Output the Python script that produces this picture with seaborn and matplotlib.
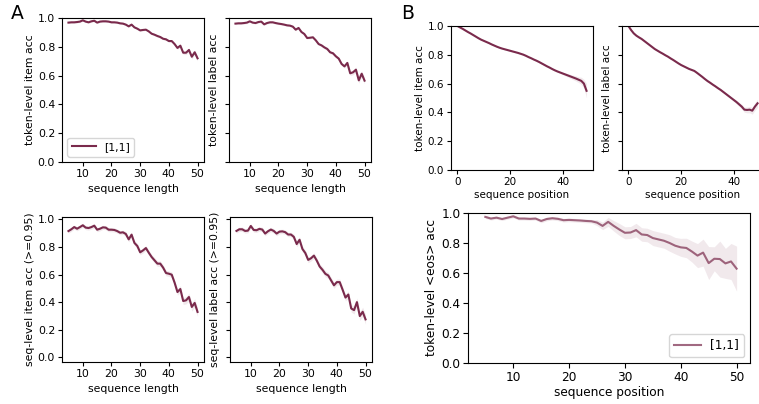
import numpy as np
import matplotlib
matplotlib.use("Agg")
import matplotlib.pyplot as plt
import seaborn as sns

# colours / legend
line_color = "#7a2a4c"
series_label = "[1,1]"

# ---------- panel A: accuracy vs sequence length ----------
seq_len = list(range(5, 51))

tok_item_acc = [0.968, 0.970, 0.970, 0.972, 0.975, 0.984, 0.975, 0.970, 0.977, 0.981,
                0.968, 0.975, 0.977, 0.977, 0.975, 0.970, 0.970, 0.968, 0.963, 0.961,
                0.954, 0.942, 0.954, 0.935, 0.926, 0.914, 0.917, 0.919, 0.907, 0.891,
                0.884, 0.875, 0.868, 0.856, 0.852, 0.840, 0.840, 0.819, 0.792, 0.808,
                0.759, 0.759, 0.778, 0.731, 0.762, 0.720]
tok_item_err = [0.006] * 30 + [0.008] * 8 + [0.01, 0.012, 0.012, 0.014, 0.014, 0.016, 0.016, 0.018]

tok_label_acc = [0.961, 0.963, 0.963, 0.965, 0.968, 0.977, 0.968, 0.965, 0.972, 0.975,
                 0.956, 0.965, 0.970, 0.970, 0.965, 0.961, 0.958, 0.954, 0.949, 0.947,
                 0.940, 0.919, 0.931, 0.903, 0.889, 0.861, 0.863, 0.866, 0.845, 0.819,
                 0.810, 0.796, 0.785, 0.762, 0.755, 0.734, 0.718, 0.681, 0.664, 0.688,
                 0.616, 0.623, 0.641, 0.567, 0.613, 0.565]
tok_label_err = [0.007] * 30 + [0.01] * 8 + [0.012, 0.014, 0.015, 0.017, 0.018, 0.02, 0.02, 0.022]

seq_item_acc = [0.915, 0.928, 0.944, 0.932, 0.944, 0.957, 0.940, 0.937, 0.944, 0.954,
                0.925, 0.932, 0.942, 0.940, 0.925, 0.925, 0.923, 0.915, 0.903, 0.906,
                0.894, 0.855, 0.889, 0.829, 0.807, 0.761, 0.775, 0.792, 0.758, 0.727,
                0.703, 0.679, 0.679, 0.650, 0.611, 0.606, 0.599, 0.541, 0.473, 0.495,
                0.408, 0.413, 0.437, 0.365, 0.394, 0.329]
seq_item_err = [0.015] * 20 + [0.018] * 10 + [0.02] * 8 + [0.022, 0.024, 0.025, 0.026, 0.028, 0.03, 0.03, 0.032]

seq_label_acc = [0.916, 0.928, 0.928, 0.916, 0.918, 0.952, 0.923, 0.921, 0.931, 0.926,
                 0.897, 0.914, 0.926, 0.916, 0.897, 0.911, 0.913, 0.907, 0.890, 0.890,
                 0.873, 0.821, 0.852, 0.785, 0.756, 0.706, 0.718, 0.737, 0.701, 0.658,
                 0.634, 0.605, 0.593, 0.557, 0.522, 0.545, 0.545, 0.490, 0.433, 0.455,
                 0.354, 0.342, 0.400, 0.299, 0.330, 0.275]
seq_label_err = [0.016] * 20 + [0.02] * 10 + [0.022] * 8 + [0.024, 0.026, 0.027, 0.028, 0.03, 0.032, 0.033, 0.035]

# ---------- panel B: accuracy vs sequence position ----------
seq_pos = list(range(0, 50))

pos_item_acc = [1.000, 0.990, 0.980, 0.969, 0.958, 0.948, 0.937, 0.926, 0.915, 0.905,
                0.897, 0.889, 0.881, 0.872, 0.864, 0.856, 0.849, 0.843, 0.838, 0.833,
                0.828, 0.823, 0.818, 0.813, 0.807, 0.801, 0.793, 0.784, 0.776, 0.767,
                0.759, 0.750, 0.740, 0.730, 0.720, 0.711, 0.701, 0.692, 0.684, 0.677,
                0.670, 0.663, 0.656, 0.649, 0.642, 0.635, 0.627, 0.619, 0.600, 0.550]
pos_item_err = [0.002] * 10 + [0.004] * 20 + [0.006] * 10 + [0.008, 0.01, 0.012, 0.014, 0.016,
                                                              0.018, 0.02, 0.025, 0.03, 0.05]

pos_label_acc = [1.000, 0.972, 0.949, 0.933, 0.921, 0.910, 0.896, 0.882, 0.868, 0.854,
                 0.840, 0.829, 0.818, 0.808, 0.797, 0.787, 0.775, 0.764, 0.752, 0.740,
                 0.729, 0.720, 0.711, 0.702, 0.695, 0.688, 0.675, 0.661, 0.647, 0.632,
                 0.618, 0.606, 0.593, 0.581, 0.568, 0.556, 0.542, 0.528, 0.514, 0.500,
                 0.486, 0.472, 0.456, 0.440, 0.419, 0.417, 0.419, 0.412, 0.440, 0.463]
pos_label_err = [0.002] * 10 + [0.004] * 20 + [0.007] * 10 + [0.01, 0.012, 0.014, 0.016, 0.018,
                                                               0.02, 0.022, 0.024, 0.026, 0.028]

eos_pos = list(range(5, 51))
eos_acc = [0.974, 0.963, 0.969, 0.960, 0.969, 0.978, 0.963, 0.963, 0.961, 0.963,
           0.947, 0.960, 0.965, 0.961, 0.952, 0.954, 0.952, 0.950, 0.947, 0.945,
           0.936, 0.914, 0.941, 0.914, 0.890, 0.868, 0.870, 0.886, 0.857, 0.853,
           0.833, 0.824, 0.815, 0.800, 0.782, 0.771, 0.767, 0.743, 0.716, 0.736,
           0.666, 0.695, 0.693, 0.664, 0.677, 0.629]
eos_err = [0.01] * 10 + [0.012] * 10 + [0.02, 0.025, 0.03, 0.035, 0.04, 0.04, 0.04, 0.045, 0.045,
                                        0.045, 0.05, 0.05, 0.05, 0.055, 0.055, 0.06, 0.065, 0.07,
                                        0.08, 0.09, 0.11, 0.08, 0.12, 0.10, 0.12, 0.15]


def draw(ax, x, y, err, alpha=1.0, label=None):
    sns.lineplot(x=x, y=y, ax=ax, color=line_color, alpha=alpha, lw=1.5, label=label)
    lo = np.array(y) - np.array(err)
    hi = np.array(y) + np.array(err)
    ax.fill_between(x, lo, hi, color=line_color, alpha=0.1, lw=0)


W, H = 759, 404
fig = plt.figure(figsize=(W / 100, H / 100), dpi=100)


def box(l, t, r, b):
    return [l / W, 1 - b / H, (r - l) / W, (b - t) / H]


fsA = 7.8
fsB = 7.5
fsC = 8.7

# panel A
ax1 = fig.add_axes(box(62, 18, 204, 162))
ax2 = fig.add_axes(box(229, 18, 371, 162))
ax3 = fig.add_axes(box(62, 217, 204, 362))
ax4 = fig.add_axes(box(230, 217, 372, 362))

draw(ax1, seq_len, tok_item_acc, tok_item_err, label=series_label)
draw(ax2, seq_len, tok_label_acc, tok_label_err)
draw(ax3, seq_len, seq_item_acc, seq_item_err)
draw(ax4, seq_len, seq_label_acc, seq_label_err)

for ax, yl in [(ax1, "token-level item acc"), (ax2, "token-level label acc"),
               (ax3, "seq-level item acc (>=0.95)"), (ax4, "seq-level label acc (>=0.95)")]:
    ax.set_xlabel("sequence length", fontsize=fsA)
    ax.set_ylabel(yl, fontsize=fsA, labelpad=2)
    ax.set_xticks([10, 20, 30, 40, 50])
    ax.set_yticks([0.0, 0.2, 0.4, 0.6, 0.8, 1.0])
    ax.tick_params(labelsize=fsA, length=3, pad=2)
for ax in (ax1, ax2):
    ax.set_ylim(0, 1)
for ax in (ax3, ax4):
    ax.set_ylim(-0.034, 1.017)
for ax in (ax2, ax4):
    ax.set_yticklabels([])
ax1.legend(loc="lower left", fontsize=fsA, handlelength=2.2)

# panel B
ax5 = fig.add_axes(box(451, 26, 593, 170))
ax6 = fig.add_axes(box(622, 26, 764, 170))
ax7 = fig.add_axes(box(468, 213, 750, 363))

draw(ax5, seq_pos, pos_item_acc, pos_item_err)
draw(ax6, seq_pos, pos_label_acc, pos_label_err)
draw(ax7, eos_pos, eos_acc, eos_err, alpha=0.7, label=series_label)

for ax, yl in [(ax5, "token-level item acc"), (ax6, "token-level label acc")]:
    ax.set_xlabel("sequence position", fontsize=fsB, labelpad=2)
    ax.set_ylabel(yl, fontsize=fsB, labelpad=2)
    ax.set_ylim(0, 1)
    ax.set_xticks([0, 20, 40])
    ax.set_yticks([0.0, 0.2, 0.4, 0.6, 0.8, 1.0])
    ax.tick_params(labelsize=fsB, length=3, pad=2)
ax6.set_yticklabels([])

ax7.set_xlabel("sequence position", fontsize=fsC, labelpad=2)
ax7.set_ylabel("token-level <eos> acc", fontsize=fsC, labelpad=2)
ax7.set_ylim(0, 1)
ax7.set_xlim(1.9, 52.4)
ax7.set_xticks([10, 20, 30, 40, 50])
ax7.set_yticks([0.0, 0.2, 0.4, 0.6, 0.8, 1.0])
ax7.tick_params(labelsize=fsC, length=3.5, pad=2)
ax7.legend(loc="lower right", fontsize=fsC, handlelength=2.2)

fig.text(11 / W, 1 - 4 / H, "A", fontsize=13.5, va="top", ha="left")
fig.text(401 / W, 1 - 4 / H, "B", fontsize=13.5, va="top", ha="left")

fig.savefig("out.png", dpi=100)
